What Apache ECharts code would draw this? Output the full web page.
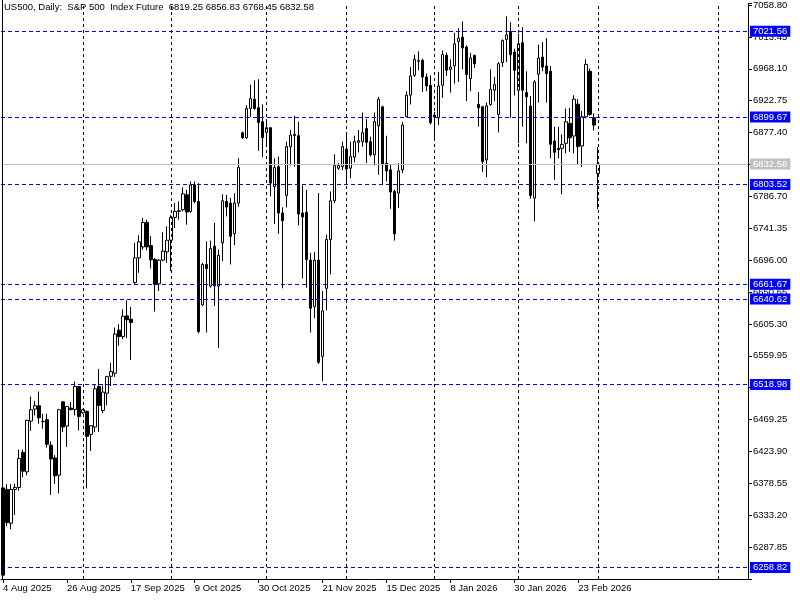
<!DOCTYPE html>
<html>
<head>
<meta charset="utf-8">
<script src="https://cdn.jsdelivr.net/npm/echarts@6/dist/echarts.min.js"></script>
<style>html,body{margin:0;padding:0;background:#fff}#c{width:800px;height:600px}</style>
</head>
<body>
<div id="c"></div>
<script>
const symbolName = 'US500';
const periodName = 'Daily';
const description = 'S&P 500  Index Future';

const opens = [6372, 6369.9, 6321.8, 6369.9, 6372.7, 6422.3, 6394.9, 6467.1, 6484.1, 6488.8,
 6466.2, 6469, 6432.7, 6414.7, 6390.2, 6494.5, 6460, 6485.5, 6483.6, 6516.2,
 6478.9, 6480.8, 6448.2, 6458.6, 6516.2, 6482.2, 6506.8, 6530.8, 6535.1, 6596.4,
 6587.4, 6616.7, 6611.9, 6663.9, 6699.2, 6714.8, 6749.7, 6716.7, 6696.9, 6662.4,
 6696, 6707.7, 6724.3, 6756.8, 6765.3, 6767.7, 6788.9, 6765.3, 6803.1, 6779.5,
 6632.2, 6689.8, 6659.1, 6715.8, 6659.1, 6720.5, 6779.5, 6777.1, 6733.7, 6777.1,
 6877.2, 6870.1, 6911.6, 6924.8, 6912.6, 6892.8, 6877.7, 6884.3, 6800.7, 6829,
 6763, 6788, 6857.4, 6872.9, 6872.9, 6763, 6763.9, 6696, 6629.9, 6696,
 6559.1, 6655.9, 6725.2, 6780.4, 6826.7, 6829, 6854.1, 6826.7, 6842.3, 6863.5,
 6864.4, 6883.3, 6864.4, 6845.6, 6887.1, 6914, 6833.8, 6824.4, 6793.7, 6791.3,
 6824.4, 6900, 6930.5, 6958.8, 6978.7, 6980.1, 6956.5, 6944.7, 6902.2, 6898.4,
 6944.7, 6987.2, 6967.3, 6972.1, 7007, 7013.1, 6999, 6954.1, 6987.2, 6917.3,
 6914, 6838.5, 6917.3, 6937.6, 6903.2, 6976.8, 7009.8, 7021.1, 6991.9, 6937.6,
 7005.1, 6934.3, 6915, 6784.2, 6960.3, 6984.8, 6972.1, 6964.5, 6865.4, 6855,
 6855, 6862.1, 6890.4, 6872.5, 6917.8, 6858.3, 6899.8, 6964.5, 6898.4, 6819.25];

const highs = [6378, 6377.5, 6377.5, 6378, 6426.5, 6426.5, 6469, 6502, 6495.4, 6509.1,
 6477.5, 6477.5, 6438.3, 6418.5, 6484.5, 6495.4, 6488, 6494, 6523.3, 6517,
 6484.5, 6482.2, 6461, 6520, 6541.2, 6517.6, 6531.5, 6550, 6600.1, 6604.9,
 6626.1, 6638.8, 6629.5, 6720.5, 6731.3, 6755.9, 6753.5, 6729.9, 6699.2, 6697,
 6735.6, 6744.1, 6760, 6777.1, 6779.5, 6799.3, 6796, 6807.8, 6807.8, 6805.4,
 6692.2, 6722.8, 6723.8, 6748.8, 6711, 6789.9, 6788.9, 6784.2, 6791.3, 6840.9,
 6878.6, 6916.4, 6945.6, 6951.7, 6953.2, 6917.3, 6896.5, 6885.2, 6840.9, 6843.2,
 6771, 6864.4, 6881, 6901.3, 6892.8, 6802.1, 6796, 6706.4, 6707.8, 6791.3,
 6652.1, 6732.3, 6793.7, 6846.5, 6833.8, 6864.4, 6876.2, 6864.4, 6872.9, 6881,
 6906, 6896.5, 6871.5, 6906, 6928.2, 6915.4, 6872.9, 6831.4, 6796, 6833.8,
 6892.8, 6936.2, 6970.6, 6988.1, 6992.8, 6982.4, 6961.2, 6958.8, 6906.9, 6963.6,
 6994.2, 6990.9, 6981.5, 7019.2, 7025.8, 7035.3, 7001.3, 6990.9, 6988.1, 6935.2,
 6915.4, 6920.1, 6967.3, 6956.5, 6977.7, 7009.8, 7042.8, 7034.3, 6996.6, 7017.8,
 7027.3, 6964.5, 6929.6, 6951.8, 7002.3, 7006, 7011.7, 6972.1, 6885.7, 6885.7,
 6874.8, 6911.6, 6912.6, 6930.5, 6924.9, 6907.9, 6981.5, 6968.3, 6904.6, 6856.83];

const lows = [6244, 6318, 6313.3, 6333.6, 6368, 6386.9, 6390.2, 6453, 6475.1, 6463.3,
 6456.3, 6429.4, 6361.9, 6377.5, 6364.2, 6451.5, 6430.3, 6482.2, 6475.1, 6453.9,
 6477.5, 6371.3, 6424.6, 6451.5, 6451.5, 6478.4, 6489.3, 6517, 6530, 6574.2,
 6583.6, 6585, 6554, 6661.5, 6678, 6711, 6710.1, 6684.2, 6622.8, 6652.1,
 6694.5, 6692.2, 6680.4, 6741.7, 6753.5, 6765.3, 6746.4, 6763, 6777.1, 6591.7,
 6630.8, 6593.1, 6656.8, 6630.8, 6570.9, 6694.5, 6758.2, 6689.8, 6717.2, 6772,
 6868.2, 6868.2, 6899.8, 6909.3, 6851.2, 6842.3, 6857.4, 6786.6, 6747.4, 6733.3,
 6655.9, 6771, 6830.5, 6829, 6745.5, 6670, 6656.8, 6593.1, 6613.4, 6548.3,
 6523.7, 6624.7, 6675.7, 6777.1, 6824.3, 6824.3, 6804, 6812.5, 6835.2, 6849.3,
 6857.4, 6833.8, 6843.2, 6830.5, 6817.3, 6803, 6807.8, 6769, 6723.8, 6770.1,
 6819.6, 6899, 6917.3, 6956.5, 6965.9, 6935.2, 6936.2, 6889, 6866.8, 6888.1,
 6926.7, 6957.9, 6934.3, 6947, 6949.4, 6967.3, 6922, 6936.2, 6969.2, 6885.7,
 6821, 6814, 6915.4, 6922, 6877.7, 6970.6, 6977.7, 6898.4, 6930, 6862.1,
 6885.7, 6862.1, 6783.3, 6751.2, 6920.1, 6964.5, 6920.1, 6840.9, 6810.2, 6840.9,
 6789.9, 6847.9, 6850.3, 6847.9, 6831.4, 6828.1, 6897.5, 6901.3, 6880, 6768.45];

const closes = [6248, 6322.7, 6369.9, 6372.7, 6413.8, 6395.9, 6468.1, 6483.2, 6488.8, 6471.8,
 6466.6, 6434.1, 6413.3, 6389.2, 6483.2, 6458.6, 6487.9, 6483.6, 6516.2, 6473.7,
 6483.2, 6445.4, 6460.5, 6512.9, 6489.3, 6508.2, 6530.3, 6537.4, 6590.7, 6587.4,
 6616.2, 6611, 6607.2, 6699.2, 6721.9, 6749.7, 6714.8, 6696.4, 6661.5, 6696,
 6708.7, 6724.3, 6756.8, 6765.3, 6766.2, 6790.3, 6764.4, 6803.1, 6779.5, 6594.5,
 6689.8, 6684.1, 6712.5, 6659.1, 6702.6, 6780.4, 6771.4, 6729.9, 6777.1, 6827.6,
 6870.1, 6911.6, 6925.8, 6911.6, 6891.8, 6870.1, 6884.3, 6805.5, 6827.6, 6763,
 6752.1, 6857.4, 6873.9, 6874.8, 6761.6, 6757.3, 6696.9, 6627.6, 6696, 6550.6,
 6623.8, 6725.2, 6780.4, 6830.5, 6830.5, 6857.4, 6825.7, 6843.2, 6864.4, 6865.9,
 6877.2, 6863.5, 6845.6, 6892.8, 6924.8, 6831.4, 6822.9, 6792.7, 6733.3, 6822.9,
 6888, 6930.5, 6957.9, 6981.5, 6979.6, 6956.5, 6943.7, 6891.8, 6899.4, 6943.7,
 6988.1, 6965.9, 6970.6, 7003.7, 7011.7, 6997.5, 6959.8, 6983.4, 6975.4, 6912.6,
 6836.1, 6915.4, 6939, 6945.6, 6975.4, 7008.4, 7016.4, 6988.1, 6965.9, 7003.7,
 6937.6, 6928.2, 6788, 6949.4, 6983.4, 6970.6, 6961.2, 6860.7, 6849.4, 6853.1,
 6860.7, 6892.8, 6870.1, 6924.9, 6857.4, 6899.8, 6974.4, 6903.2, 6888, 6832.58];

// date labels every 16 bars starting at bar 0
const dateLabels = ['4 Aug 2025', '26 Aug 2025', '17 Sep 2025', '9 Oct 2025', '30 Oct 2025',
  '21 Nov 2025', '15 Dec 2025', '8 Jan 2026', '30 Jan 2026', '23 Feb 2026'];
const labelStep = 16;
// bar slots shown on the axis (history + empty right margin)
const slotCount = 187;
// vertical period separators (bar index)
const separatorBars = [20, 42, 66, 86, 108, 129, 149, 179];
// horizontal levels
const blueLevels = [7021.56, 6899.67, 6803.52, 6661.67, 6640.62, 6518.98, 6258.82];
const bidLevel = 6832.58;
// price scale
const priceMin = 6242.50;
const priceMax = 7060.70;
const priceStep = 45.35;

const FONT = 'Liberation Sans';
const FS = 9.5;

const slots = Array.from({length: slotCount}, (_, i) => String(i));
const candleData = opens.map((o, i) => [o, closes[i], lows[i], highs[i]]);
const isLabelIdx = (idx) => idx % labelStep === 0 && (idx / labelStep) < dateLabels.length;

const last = opens.length - 1;
const titleText = symbolName + ', ' + periodName + ':  ' + description + '  ' +
  opens[last].toFixed(2) + ' ' + highs[last].toFixed(2) + ' ' + lows[last].toFixed(2) + ' ' + closes[last].toFixed(2);

const markData = [];
separatorBars.forEach(b => markData.push({
  xAxis: b,
  lineStyle: {color: '#000', type: [3, 3], width: 1},
  label: {show: false}
}));
blueLevels.forEach(v => markData.push({
  yAxis: v,
  lineStyle: {color: '#0000ff', type: [4, 3], width: 1},
  label: {show: true, position: 'end', distance: 2, formatter: v.toFixed(2),
    color: '#fff', backgroundColor: '#0000ff', fontSize: FS, fontFamily: FONT,
    padding: [1, 3, 0, 3], lineHeight: 10}
}));
markData.push({
  yAxis: bidLevel,
  lineStyle: {color: '#c0c0c0', type: 'solid', width: 1},
  label: {show: true, position: 'end', distance: 2, formatter: bidLevel.toFixed(2),
    color: '#fff', backgroundColor: '#c0c0c0', fontSize: FS, fontFamily: FONT,
    padding: [1, 3, 0, 3], lineHeight: 10}
});

const chart = echarts.init(document.getElementById('c'), null, {renderer: 'canvas'});
chart.setOption({
  animation: false,
  backgroundColor: '#fff',
  title: {
    text: titleText, left: 4, top: 2, padding: 0,
    textStyle: {fontSize: FS, fontWeight: 'normal', color: '#000', fontFamily: FONT}
  },
  grid: {left: 0, right: 52, top: 1, bottom: 21, containLabel: false},
  xAxis: {
    type: 'category', data: slots, boundaryGap: true,
    axisLine: {show: true, lineStyle: {color: '#000', width: 1}},
    axisTick: {show: true, alignWithLabel: true, length: 4, interval: (idx) => isLabelIdx(idx),
      lineStyle: {color: '#000'}},
    axisLabel: {interval: (idx) => isLabelIdx(idx), align: 'left', margin: 4,
      formatter: (v, idx) => isLabelIdx(idx) ? dateLabels[idx / labelStep] : '',
      color: '#000', fontSize: FS, fontFamily: FONT},
    splitLine: {show: false}
  },
  yAxis: {
    type: 'value', position: 'right', min: priceMin, max: priceMax, interval: priceStep,
    axisLine: {show: true, lineStyle: {color: '#000', width: 1}},
    axisTick: {show: true, length: 4, lineStyle: {color: '#000'}},
    axisLabel: {margin: 5, color: '#000', fontSize: FS, fontFamily: FONT,
      formatter: (v) => {
        const k = (v - priceMin) / priceStep;
        if (Math.abs(k - Math.round(k)) > 0.01 || Math.round(k) === 0) return '';
        return v.toFixed(2);
      }},
    splitLine: {show: false}
  },
  graphic: [{
    type: 'rect', shape: {x: 2, y: 0, width: 1, height: 579},
    style: {fill: '#000'}, silent: true, z: 10
  }],
  series: [{
    type: 'line', data: [], z: 1, silent: true,
    markLine: {symbol: ['none', 'none'], silent: true, animation: false, data: markData}
  }, {
    type: 'candlestick', z: 3, data: candleData, barWidth: 3, silent: true,
    itemStyle: {color: '#ffffff', color0: '#000000', borderColor: '#000000', borderColor0: '#000000',
      borderColorDoji: '#000000', borderWidth: 1}
  }]
});
</script>
</body>
</html>
